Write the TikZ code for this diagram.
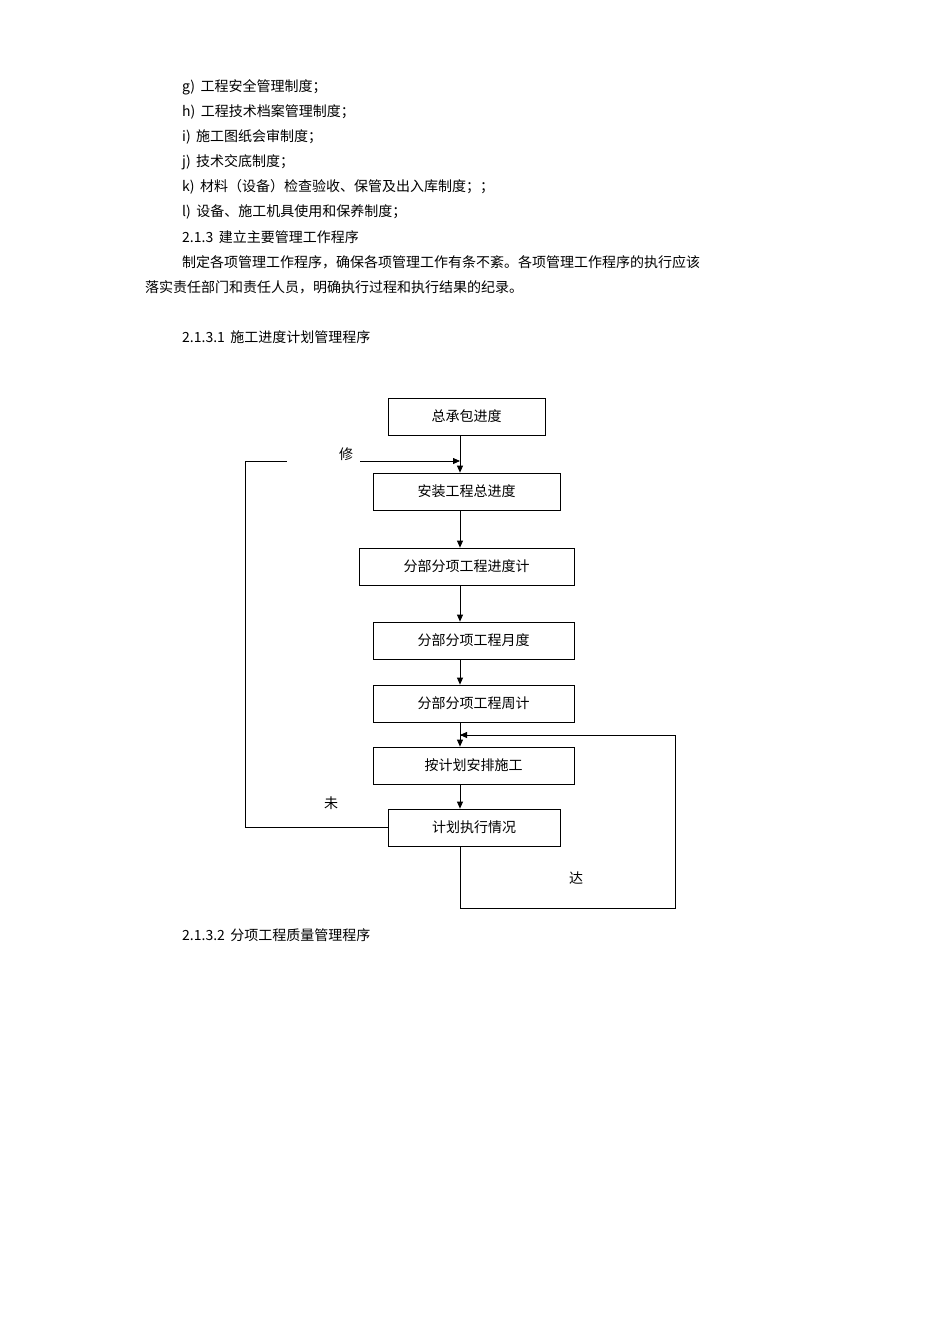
\documentclass[tikz,border=0pt]{standalone}
\usepackage{fontspec}
\setmainfont{Liberation Serif}
\newfontfamily\cjk{Noto Sans CJK SC}
\usetikzlibrary{arrows.meta}
\begin{document}
\begin{tikzpicture}[x=1pt,y=-1pt,font=\cjk\fontsize{14}{16}\selectfont,
 box/.style={draw,thick,minimum height=37pt,inner sep=0pt},
 txt/.style={anchor=west,inner sep=0pt},
 arr/.style={thick,-{Triangle[length=7pt,width=6pt]}}]
\useasboundingbox (0,0) rectangle (950,1344);
\node[txt] (l1) at (182,87) {g)\, 工程安全管理制度；};
\node[txt] (l2) at (182,112) {h)\, 工程技术档案管理制度；};
\node[txt] (l3) at (182,137) {i)\, 施工图纸会审制度；};
\node[txt] (l4) at (182,162) {j)\, 技术交底制度；};
\node[txt] (l5) at (182,187) {k)\, 材料（设备）检查验收、保管及出入库制度；；};
\node[txt] (l6) at (182,212) {l)\, 设备、施工机具使用和保养制度；};
\node[txt] (l7) at (182,237) {2.1.3\, 建立主要管理工作程序};
\node[txt] (l8) at (182,262) {制定各项管理工作程序，确保各项管理工作有条不紊。各项管理工作程序的执行应该};
\node[txt] (l9) at (145,287) {落实责任部门和责任人员，明确执行过程和执行结果的纪录。};
\node[txt] (l10) at (182,337) {2.1.3.1\, 施工进度计划管理程序};
\node[txt] (l11) at (182,935) {2.1.3.2\, 分项工程质量管理程序};

\node[box,minimum width=157pt] (b1) at (466.5,416.5) {总承包进度};
\node[box,minimum width=187pt] (b2) at (466.5,491.5) {安装工程总进度};
\node[box,minimum width=215pt] (b3) at (466.5,566.5) {分部分项工程进度计};
\node[box,minimum width=201pt] (b4) at (473.5,640.5) {分部分项工程月度};
\node[box,minimum width=201pt] (b5) at (473.5,703.5) {分部分项工程周计};
\node[box,minimum width=201pt] (b6) at (473.5,765.5) {按计划安排施工};
\node[box,minimum width=172pt] (b7) at (474,827.5) {计划执行情况};

\draw[arr] (b1.south -| 460,0) -- (b2.north -| 460,0);
\draw[arr] (b2.south -| 460,0) -- (b3.north -| 460,0);
\draw[arr] (b3.south -| 460,0) -- (b4.north -| 460,0);
\draw[arr] (b4.south -| 460,0) -- (b5.north -| 460,0);
\draw[arr] (b5.south -| 460,0) -- (b6.north -| 460,0);
\draw[arr] (b6.south -| 460,0) -- (b7.north -| 460,0);

\coordinate (lA) at (287,461);
\coordinate (lB) at (360,461);
\coordinate (lC) at (460,461);
\draw[thick] (b7.west) -| (245,461) -- (lA);
\draw[arr] (lB) -- (lC);
\node (xiu) at (346,454) {修};
\node (wei) at (331,803) {未};

\coordinate (rA) at (460,735);
\draw[thick] (b7.south -| 460,0) -- (460,908) -- (675,908) -- (675,735) -- (rA) ;
\draw[arr] (675,735) -- (rA);
\node (da) at (576,878) {达};
\end{tikzpicture}
\end{document}
